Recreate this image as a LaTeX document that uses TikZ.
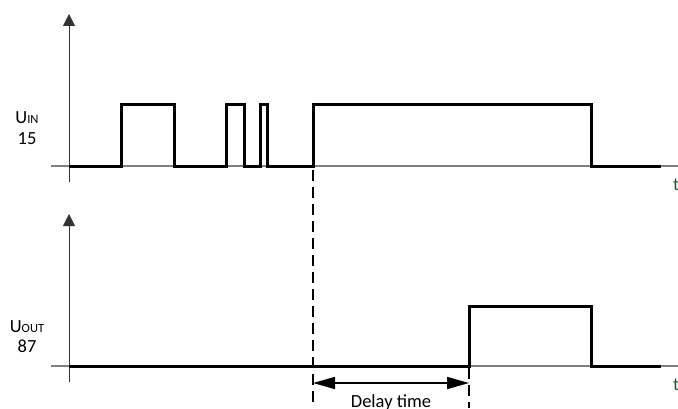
\documentclass[tikz,border=0pt]{standalone}
\usepackage{fontspec}
\setmainfont{Carlito}
\usetikzlibrary{arrows.meta}
\definecolor{tgreen}{RGB}{38,88,58}

\begin{document}
\begin{tikzpicture}[x=1pt,y=1pt]
    \tikzstyle{signal}=[line width=3pt, line join=miter]
    \tikzstyle{yaxis}=[line width=1pt, black!80, -{Triangle[length=12pt,width=12pt]}]
    \tikzstyle{taxis}=[line width=1.2pt, gray]
    \tikzstyle{marker}=[line width=1.8pt, dash pattern=on 11pt off 6pt]
    \tikzstyle{label}=[font=\fontsize{18.5}{20}\selectfont, inner sep=0pt]
    \tikzstyle{tlabel}=[font=\fontsize{18.5}{20}\selectfont, text=tgreen, inner sep=0pt, anchor=base west]

    \useasboundingbox (0,0) rectangle (678,408);

    % top panel: input
    \coordinate (inorg) at (69,242);
    \coordinate (intop) at (69,394);
    \draw [taxis] (51,242) -- (678,242);
    \draw [yaxis] (69,226) -- (intop);
    \node [label, anchor=base] (uin) at (27,284) {U{\fontsize{12.5}{13}\selectfont IN}};
    \node [label, anchor=base] (uinpin) at (27,264) {15};
    \node [tlabel] (tin) at (673,218) {t};

    \draw [signal] (inorg) -- (121,242) -- (121,303) -- (174,303) -- (174,242)
      -- (226,242) -- (226,303) -- (244,303) -- (244,242)
      -- (260,242) -- (260,303) -- (267,303) -- (267,242)
      -- (313,242) -- (313,303) -- (591,303) -- (591,242) -- (661,242);

    % bottom panel: output
    \coordinate (outorg) at (69,42);
    \coordinate (outtop) at (69,194);
    \draw [taxis] (51,42) -- (678,42);
    \draw [yaxis] (69,26) -- (outtop);
    \node [label, anchor=base] (uout) at (27,76) {U{\fontsize{12.5}{13}\selectfont OUT}};
    \node [label, anchor=base] (uoutpin) at (27,56) {87};
    \node [tlabel] (tout) at (673,18) {t};

    \draw [signal] (outorg) -- (469,42) -- (469,102) -- (591,102) -- (591,42) -- (661,42);

    % delay time
    \coordinate (ds) at (313,238);
    \coordinate (dsend) at (313,0);
    \coordinate (de) at (469,40);
    \coordinate (deend) at (469,0);
    \draw [marker] (ds) -- (dsend);
    \draw [marker] (de) -- (deend);
    \coordinate (da) at (313,25);
    \coordinate (db) at (469,25);
    \draw [line width=1.5pt, {Triangle[length=22pt,width=12pt]}-{Triangle[length=22pt,width=12pt]}] (da) -- (db);
    \node [label, anchor=base] (delay) at (391,1) {Delay time};
\end{tikzpicture}
\end{document}
